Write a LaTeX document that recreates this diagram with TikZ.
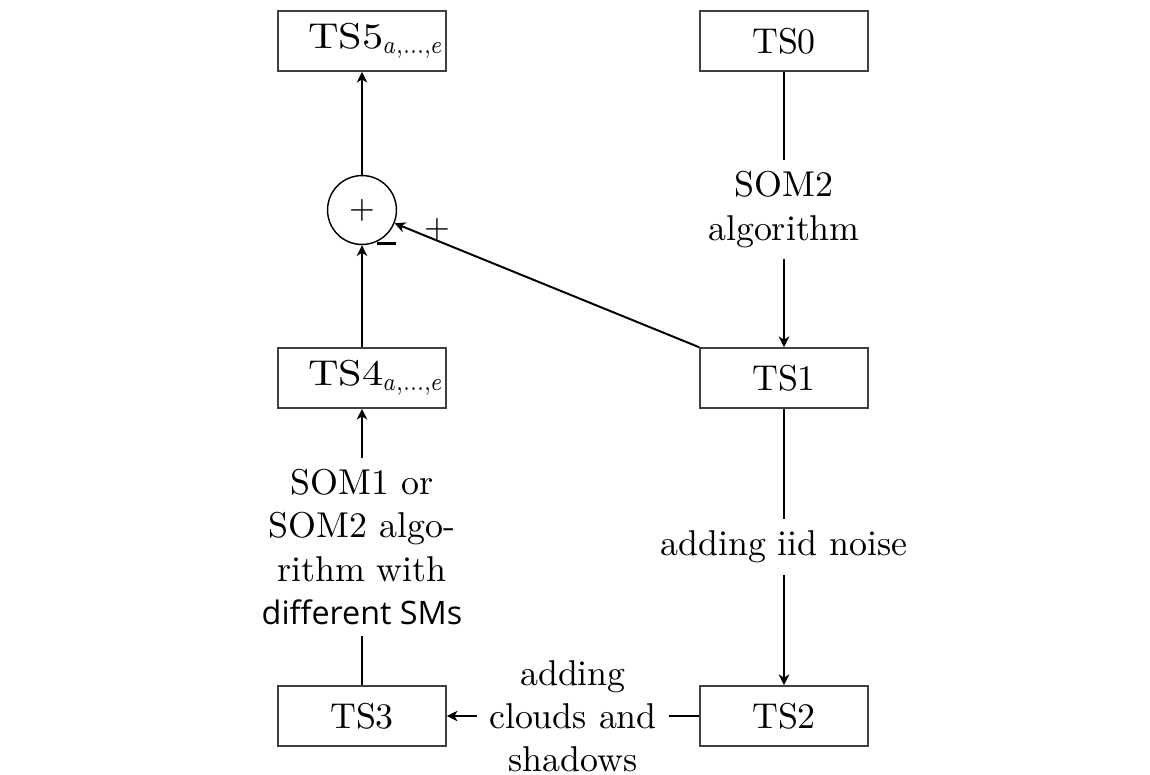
\documentclass[tikz,border=0pt]{standalone}
\usepackage{fontspec}
\usetikzlibrary{arrows.meta}
\newfontfamily\sansalt{Open Sans}
\newcommand{\tsname}[1]{\scalebox{1.18}[1]{TS#1}$_{\scalebox{0.82}[1]{$\scriptstyle a,...,e$}}$}
\begin{document}
\begin{tikzpicture}[x=0.2786pt,y=-0.2786pt,
  box/.style={draw=black!75, line width=0.45pt, minimum width=46.8pt, minimum height=16.7pt, inner sep=0pt, font=\normalsize},
  boxr/.style={box, text width=45.7pt, inner xsep=0.55pt, align=right},
  sum/.style={draw, circle, line width=0.4pt, minimum size=19.2pt, inner sep=0pt, font=\small},
  lbl/.style={fill=white, align=center, inner sep=3.3pt},
  arr/.style={-{Stealth[length=3pt,width=2.9pt,inset=0.9pt]}, line width=0.55pt},
  sgn/.style={inner sep=0pt}]
\useasboundingbox (0,0) rectangle (1150,774);
\node[boxr] (ts5) at (362,41) {\tsname{5}};
\node[box] (ts0) at (784,41) {TS0};
\node[sum] (sum) at (362,210) {$+$};
\node[boxr] (ts4) at (362,378) {\tsname{4}};
\node[box] (ts1) at (784,378) {TS1};
\node[box] (ts3) at (362,716) {TS3};
\node[box] (ts2) at (784,716) {TS2};
\draw[arr] (ts0) -- node[lbl]{SOM2\\algorithm} (ts1);
\draw[arr] (ts1) -- node[lbl]{adding iid noise} (ts2);
\draw[arr] (ts2) -- node[lbl]{adding\\clouds and\\shadows} (ts3);
\draw[arr] (ts3) -- node[lbl]{SOM1 or\\SOM2 algo-\\rithm with\\{\sansalt\fontsize{9}{12}\selectfont different SMs}} (ts4);
\draw[arr] (ts4) -- (sum);
\draw[arr] (ts1.north west) -- (sum);
\draw[arr] (sum) -- (ts5);
\node[sgn] (minus) at (386.5,243.5) {\rule{5.3pt}{0.8pt}};
\node[sgn] (plus) at (437,229) {\small$+$};
\end{tikzpicture}
\end{document}
